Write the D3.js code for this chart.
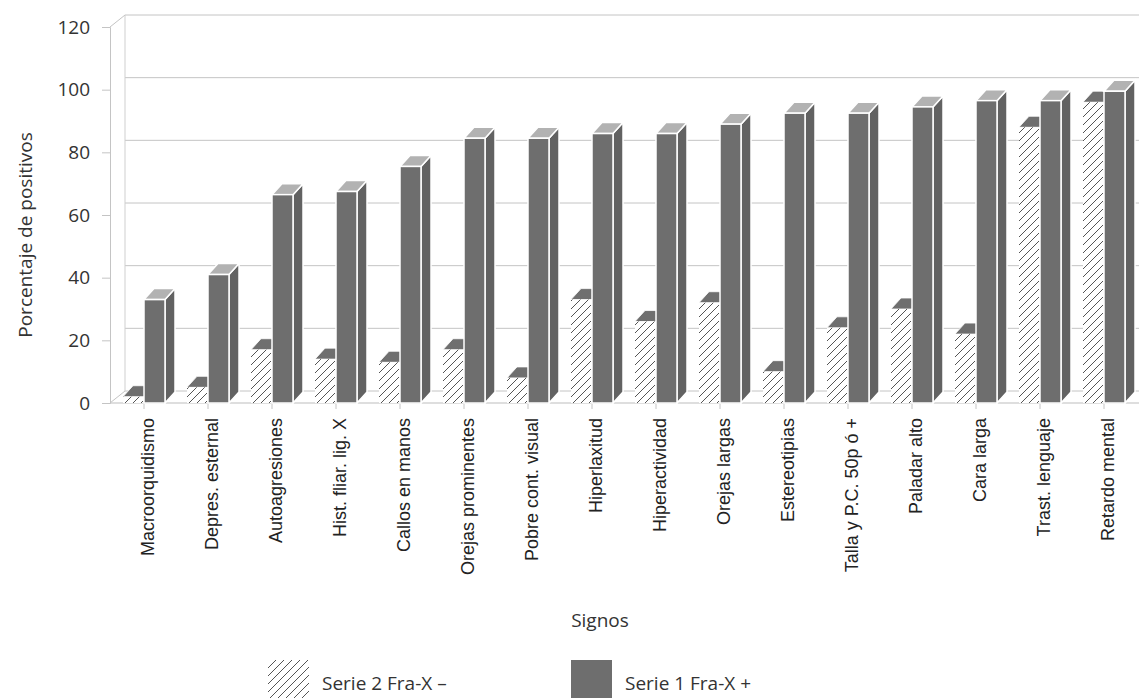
<!DOCTYPE html>
<html>
<head>
<meta charset="utf-8">
<script src="https://cdn.jsdelivr.net/npm/d3@7/dist/d3.min.js"></script>
<style>
  html, body { margin: 0; padding: 0; background: #fff; }
  svg { display: block; }
  .tick-label { font-family: "Open Sans", sans-serif; font-size: 19px; fill: #333; }
  .cat-label { font-family: "Liberation Sans", Arial, sans-serif; font-size: 18px; fill: #222; }
  .title { font-family: "Open Sans", sans-serif; font-size: 19px; fill: #333; }
</style>
</head>
<body>
<script>
const categories = [
  "Macroorquidismo", "Depres. esternal", "Autoagresiones", "Hist. fliar. lig. X",
  "Callos en manos", "Orejas prominentes", "Pobre cont. visual", "Hiperlaxitud",
  "Hiperactividad", "Orejas largas", "Estereotipias", "Talla y P.C. 50p ó +",
  "Paladar alto", "Cara larga", "Trast. lenguaje", "Retardo mental"
];
const serie1 = [33, 41, 66.5, 67.5, 75.5, 84.5, 84.5, 86, 86, 89, 92.5, 92.5, 94.5, 96.5, 96.5, 99.5]; // Fra-X +
const serie2 = [2, 5, 17, 14, 13, 17, 8, 33, 26, 32, 10, 24, 30, 22, 88, 96];                       // Fra-X -
const yTicks = [0, 20, 40, 60, 80, 100, 120];
const legendLabels = ["Serie 2 Fra-X \u2013", "Serie 1 Fra-X +"];

const width = 1139, height = 698;
const depth = { dx: 10, dy: -11 };   // bar depth
const wall = { dx: 15, dy: -12 };    // back wall offset
const axisX = 110;

const svg = d3.select("body").append("svg").attr("width", width).attr("height", height);

const defs = svg.append("defs");
const hatch = defs.append("pattern").attr("id", "hatch")
  .attr("patternUnits", "userSpaceOnUse").attr("width", 8).attr("height", 8);
hatch.append("rect").attr("width", 8).attr("height", 8).attr("fill", "#fff");
hatch.append("path").attr("d", "M-2,2 l4,-4 M0,8 l8,-8 M6,10 l4,-4")
  .attr("stroke", "#555").attr("stroke-width", 1);

const x = d3.scaleBand().domain(categories).range([112, 1136]);
const y = d3.scaleLinear().domain([0, 120]).range([403, 27]);
const y0 = y(0);
const barW = Math.round(x.bandwidth() * 0.33);
const cx = c => x(c) + x.bandwidth() / 2;

// back wall + gridlines
const grid = svg.append("g");
grid.selectAll("line.grid").data(yTicks).join("line")
  .attr("x1", axisX + wall.dx).attr("x2", width)
  .attr("y1", d => y(d) + wall.dy).attr("y2", d => y(d) + wall.dy)
  .attr("stroke", "#c4c4c4").attr("stroke-width", 1);
grid.append("line").attr("x1", axisX + wall.dx).attr("x2", axisX + wall.dx)
  .attr("y1", y(120) + wall.dy).attr("y2", y0 + wall.dy).attr("stroke", "#cfcfcf");
grid.append("line").attr("x1", axisX).attr("y1", y(120)).attr("x2", axisX + wall.dx).attr("y2", y(120) + wall.dy)
  .attr("stroke", "#c4c4c4");
grid.append("line").attr("x1", axisX).attr("y1", y0).attr("x2", axisX + wall.dx).attr("y2", y0 + wall.dy)
  .attr("stroke", "#c4c4c4");
grid.append("line").attr("x1", axisX).attr("x2", width).attr("y1", y0).attr("y2", y0)
  .attr("stroke", "#bdbdbd");

// y axis
const yAxis = svg.append("g").attr("transform", `translate(${axisX},0)`)
  .call(d3.axisLeft(y).tickValues(yTicks).tickSize(8).tickPadding(12));
yAxis.select(".domain").attr("stroke", "#c4c4c4");
yAxis.selectAll(".tick line").attr("stroke", "#c4c4c4");
yAxis.selectAll(".tick text").attr("class", "tick-label").attr("font-family", null).attr("font-size", null);

// x axis
const xAxis = svg.append("g").attr("transform", `translate(0,${y0})`)
  .call(d3.axisBottom(x).tickSize(6));
xAxis.select(".domain").remove();
xAxis.selectAll(".tick line").attr("stroke", "#c4c4c4");
xAxis.selectAll(".tick text")
  .attr("class", "cat-label").attr("font-family", null).attr("font-size", null)
  .attr("transform", "rotate(-90)")
  .attr("text-anchor", "end")
  .attr("x", -15).attr("y", 4).attr("dy", "0.35em");

// bars
const poly = pts => pts.map(p => p.join(",")).join(" ");
const bars = svg.append("g");
categories.forEach((c, i) => {
  const g = bars.append("g");
  const c0 = cx(c);
  // serie 2 (hatched)
  const h2 = y(serie2[i]);
  const xl = c0 - barW;
  g.append("polygon")
    .attr("points", poly([[xl, h2], [xl + depth.dx, h2 + depth.dy], [c0 + depth.dx, h2 + depth.dy], [c0, h2]]))
    .attr("fill", "#6f6f6f").attr("stroke", "#fff").attr("stroke-width", 0.8);
  g.append("rect").attr("x", xl).attr("y", h2).attr("width", barW - 1).attr("height", y0 - h2)
    .attr("fill", "url(#hatch)");
  // serie 1 (dark)
  const h1 = y(serie1[i]);
  const xr = c0 + barW;
  g.append("polygon")
    .attr("points", poly([[xr, h1], [xr + depth.dx, h1 + depth.dy], [xr + depth.dx, y0 + depth.dy], [xr, y0]]))
    .attr("fill", "#626262").attr("stroke", "#fff").attr("stroke-width", 1.5);
  g.append("polygon")
    .attr("points", poly([[c0, h1], [c0 + depth.dx, h1 + depth.dy], [xr + depth.dx, h1 + depth.dy], [xr, h1]]))
    .attr("fill", "#b2b2b2").attr("stroke", "#fff").attr("stroke-width", 1.5);
  g.append("rect").attr("x", c0).attr("y", h1).attr("width", barW).attr("height", y0 - h1)
    .attr("fill", "#6e6e6e").attr("stroke", "#fff").attr("stroke-width", 1.5);
});

// titles
svg.append("text").attr("class", "title")
  .attr("transform", "translate(32,235) rotate(-90)")
  .attr("text-anchor", "middle").text("Porcentaje de positivos");
svg.append("text").attr("class", "title")
  .attr("x", 600).attr("y", 627).attr("text-anchor", "middle").text("Signos");

// legend
const legend = svg.append("g");
const legendItems = [
  { label: legendLabels[0], fill: "url(#hatch)", x: 268 },
  { label: legendLabels[1], fill: "#6e6e6e", x: 571 }
];
legendItems.forEach(d => {
  legend.append("rect").attr("x", d.x).attr("y", 660).attr("width", 41).attr("height", 40).attr("fill", d.fill);
  legend.append("text").attr("class", "title").attr("x", d.x + 54).attr("y", 690).text(d.label);
});
</script>
</body>
</html>
